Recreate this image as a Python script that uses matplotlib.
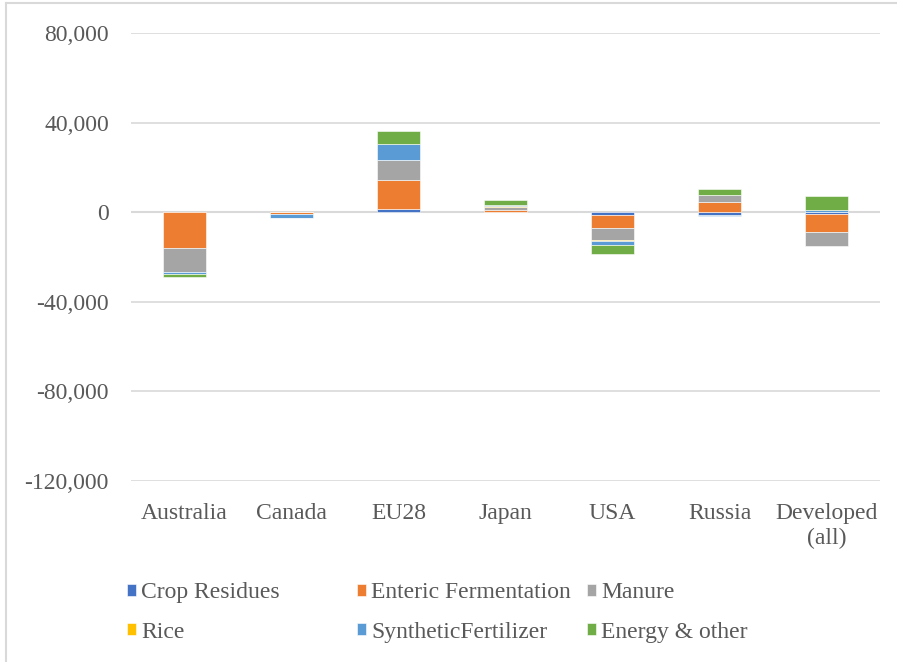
import matplotlib
matplotlib.use("Agg")
import matplotlib.pyplot as plt
import numpy as np
from matplotlib.ticker import FuncFormatter

categories = ["Australia", "Canada", "EU28", "Japan", "USA", "Russia", "Developed\n(all)"]
series_names = ["Crop Residues", "Enteric Fermentation", "Manure", "Rice",
                "SyntheticFertilizer", "Energy & other"]
crop_residues = [0, -100, 1600, 0, -1200, -1100, -1000]
enteric = [-15900, -500, 12600, 1200, -5900, 4500, -7700]
manure = [-10700, -200, 9200, 1300, -5200, 3400, -6200]
rice = [-300, 0, 0, 400, -400, 0, 0]
synthetic = [-800, -1600, 7100, 500, -2100, -500, 1200]
energy = [-1300, -200, 5700, 1900, -3700, 2500, 5900]
colors = ["#4472C4", "#ED7D31", "#A5A5A5", "#FFC000", "#5B9BD5", "#70AD47"]
yticks = [-120000, -80000, -40000, 0, 40000, 80000]

data = [crop_residues, enteric, manure, rice, synthetic, energy]

plt.rcParams["font.family"] = ["Liberation Serif", "DejaVu Serif"]
fig = plt.figure(figsize=(8.97, 6.62), dpi=100)
ax = fig.add_axes([131/897, 1-481/662, (880-131)/897, (481-33)/662])

x = np.arange(len(categories))
pos_base = np.zeros(len(categories))
neg_base = np.zeros(len(categories))
handles = []
for name, vals, c in zip(series_names, data, colors):
    v = np.array(vals, dtype=float)
    bottoms = np.where(v >= 0, pos_base, neg_base)
    b = ax.bar(x, v, 0.4, bottom=bottoms, color=c, label=name, zorder=3,
               edgecolor="white", linewidth=0.4)
    handles.append(b)
    pos_base += np.where(v >= 0, v, 0)
    neg_base += np.where(v < 0, v, 0)

ax.set_xlim(-0.5, len(categories) - 0.5)
ax.set_ylim(-120000, 80000)
ax.set_yticks(yticks)
ax.yaxis.set_major_formatter(FuncFormatter(lambda v, p: f"{int(v):,}"))
ax.grid(axis="y", color="#d9d9d9", linewidth=1.2, zorder=0)
ax.axhline(0, color="#d9d9d9", linewidth=1.5, zorder=2)
for s in ax.spines.values():
    s.set_visible(False)
ax.tick_params(axis="both", length=0, labelsize=17, colors="#595959")
ax.tick_params(axis="y", pad=16)
ax.tick_params(axis="x", pad=16)
ax.set_xticks(x)
ax.set_xticklabels(categories, linespacing=1.2)

# legend: three columns of equal width, filled row-wise
col_x = [127, 357, 587]
for ci in range(3):
    idx = [ci, ci + 3]
    leg = fig.legend([handles[i] for i in idx], [series_names[i] for i in idx],
                     loc="upper left", bbox_to_anchor=(col_x[ci]/897, 1-582/662),
                     ncol=1, frameon=False, fontsize=17, handlelength=0.4,
                     handleheight=0.4, handletextpad=0.2, labelspacing=0.8,
                     borderpad=0, borderaxespad=0)
    for t in leg.get_texts():
        t.set_color("#595959")

# chart border (top and left visible)
fig.add_artist(plt.Line2D([6/897, 6/897], [0, 1-3/662], transform=fig.transFigure,
                          color="#d9d9d9", linewidth=1.5))
fig.add_artist(plt.Line2D([6/897, 1], [1-3/662, 1-3/662], transform=fig.transFigure,
                          color="#d9d9d9", linewidth=1.5))

fig.savefig("out.png", dpi=100)
